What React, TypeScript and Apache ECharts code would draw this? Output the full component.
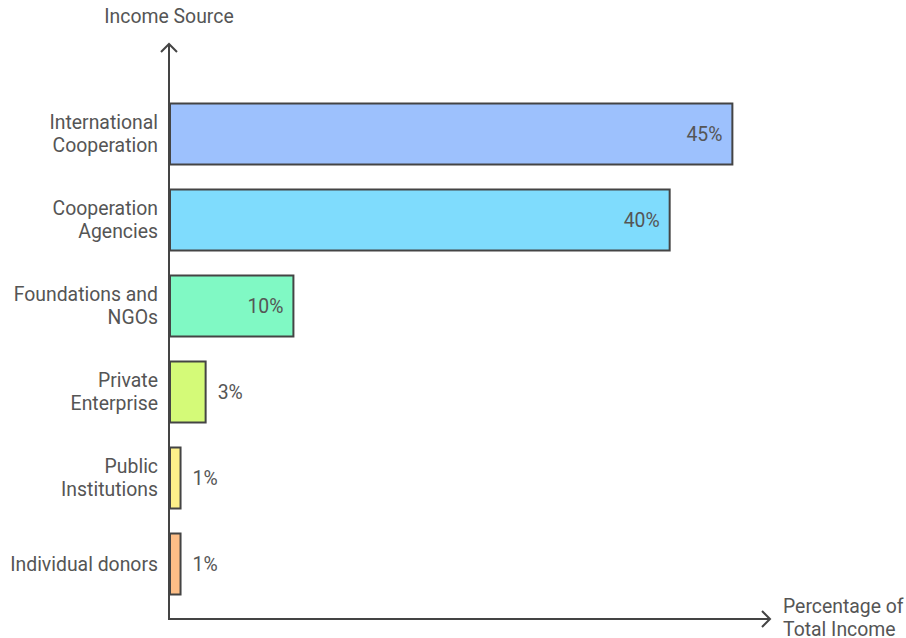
import React, { useEffect, useRef } from "react";
import * as echarts from "echarts";

const categories = [
  "International\nCooperation",
  "Cooperation\nAgencies",
  "Foundations and\nNGOs",
  "Private\nEnterprise",
  "Public\nInstitutions",
  "Individual donors",
];
const values = [45, 40, 10, 3, 1, 1];
const colors = ["#9dc1fd", "#7fdcfd", "#80f9c4", "#d4fa78", "#fdf08a", "#fdbe87"];
const yAxisTitle = "Income Source";
const xAxisTitle = "Percentage of\nTotal Income";

const FONT = "Roboto, 'Noto Sans', sans-serif";
const LINE = "#444444";
const TEXT = "#555555";
const FS = 19.4;

export default function App() {
  const ref = useRef<HTMLDivElement>(null);
  useEffect(() => {
    document.body.style.margin = "0";
    if (!ref.current) return;
    const chart = echarts.init(ref.current, null, { renderer: "svg" });
    chart.setOption({
      animation: false,
      textStyle: { fontFamily: FONT },
      grid: { left: 169, top: 91, width: 602, height: 516, containLabel: false },
      xAxis: { type: "value", min: 0, max: 48, show: false },
      yAxis: {
        type: "category",
        data: categories,
        inverse: true,
        axisLine: { show: false },
        axisTick: { show: false },
        splitLine: { show: false },
        axisLabel: {
          margin: 11,
          fontSize: FS,
          lineHeight: 23,
          color: TEXT,
          fontFamily: FONT,
          align: "right",
        },
      },
      series: [
        {
          type: "bar",
          barWidth: 63,
          data: values.map((v, i) => ({
            value: v,
            itemStyle: { color: colors[i], borderColor: LINE, borderWidth: 2 },
            label: {
              show: true,
              position: v >= 10 ? "insideRight" : "right",
              distance: 11,
              formatter: "{c}%",
              fontSize: FS,
              color: TEXT,
              fontFamily: FONT,
            },
          })),
        },
      ],
      graphic: [
        { type: "line", shape: { x1: 169, y1: 44, x2: 169, y2: 620 }, style: { stroke: LINE, lineWidth: 2 } },
        { type: "line", shape: { x1: 168, y1: 619, x2: 770, y2: 619 }, style: { stroke: LINE, lineWidth: 2 } },
        { type: "polyline", shape: { points: [[161, 52], [169, 44], [177, 52]] }, style: { stroke: LINE, lineWidth: 2, fill: null } },
        { type: "polyline", shape: { points: [[762, 611], [770, 619], [762, 627]] }, style: { stroke: LINE, lineWidth: 2, fill: null } },
        {
          type: "text",
          x: 169,
          y: 16,
          style: { text: yAxisTitle, fontSize: FS, fill: TEXT, fontFamily: FONT, textAlign: "center", textVerticalAlign: "middle" },
        },
        {
          type: "text",
          x: 783,
          y: 618,
          style: { text: xAxisTitle, fontSize: FS, lineHeight: 23, fill: TEXT, fontFamily: FONT, textAlign: "left", textVerticalAlign: "middle" },
        },
      ],
    });
    return () => chart.dispose();
  }, []);
  return <div ref={ref} style={{ width: 906, height: 638 }} />;
}
